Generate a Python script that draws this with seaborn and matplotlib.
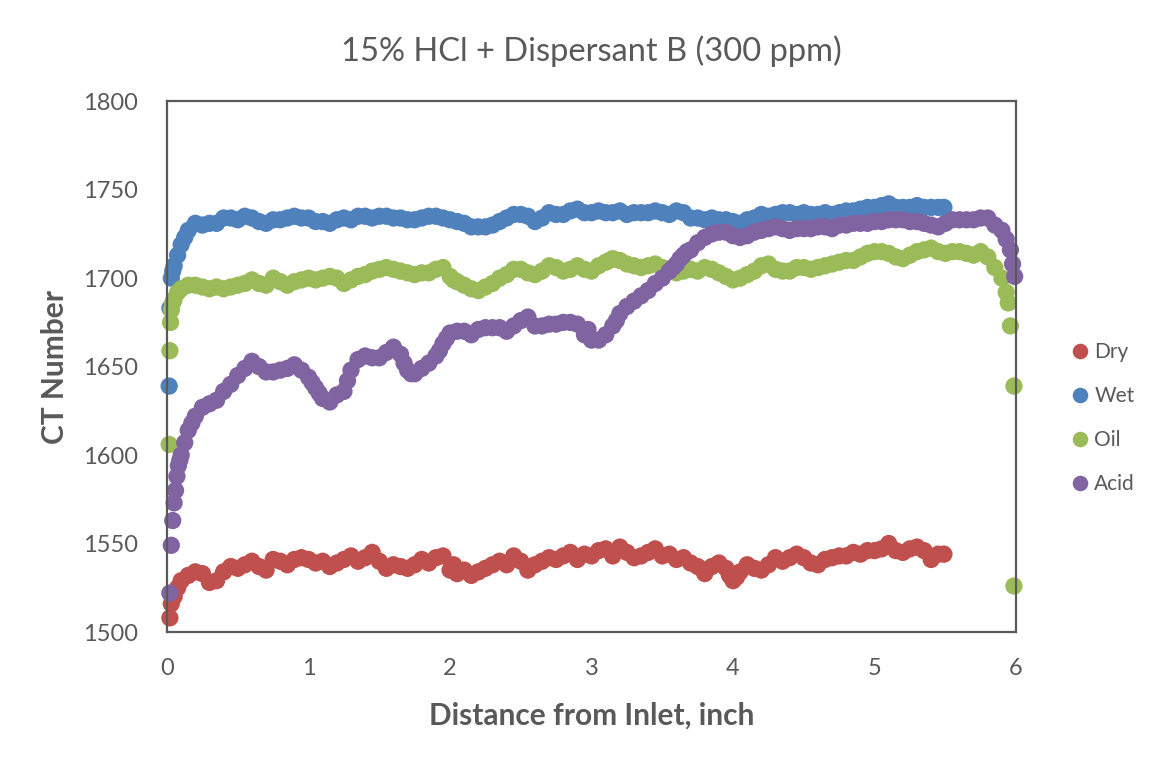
import numpy as np
import pandas as pd
import matplotlib
matplotlib.use("Agg")
import matplotlib.pyplot as plt
import seaborn as sns


def steps(start, stop):
    # sampling positions along the core, 0.05 inch apart
    return list(np.round(np.arange(start, stop + 0.001, 0.05), 3))


# distance from inlet [inch] and CT number
dry_x = [0.02, 0.03] + steps(0.05, 5.45) + [5.49, 0.075, 2.025, 3.975, 4.025]
dry_y = [1508, 1516,
         1520, 1529, 1532, 1534, 1533, 1528, 1529, 1534, 1537, 1536,
         1538, 1540, 1537, 1535, 1541, 1540, 1538, 1541, 1542, 1541,
         1539, 1540, 1537, 1539, 1541, 1543, 1540, 1542, 1545, 1540,
         1536, 1538, 1537, 1536, 1538, 1541, 1539, 1542, 1543, 1535,
         1533, 1535, 1532, 1534, 1536, 1538, 1540, 1538, 1543, 1540,
         1535, 1538, 1540, 1542, 1541, 1543, 1545, 1541, 1544, 1543,
         1546, 1547, 1543, 1548, 1545, 1542, 1543, 1545, 1547, 1543,
         1544, 1541, 1542, 1539, 1537, 1533, 1537, 1539, 1536, 1529,
         1534, 1538, 1536, 1535, 1538, 1542, 1540, 1542, 1544, 1542,
         1539, 1538, 1541, 1542, 1543, 1543, 1545, 1544, 1546, 1546,
         1547, 1550, 1546, 1545, 1547, 1548, 1546, 1541, 1544,
         1544, 1525, 1538, 1532, 1531]

wet_x = [0.015, 0.02, 0.03, 0.04] + steps(0.05, 5.45) + [5.49, 0.075, 0.125]
wet_y = [1639, 1683, 1700, 1704,
         1707, 1719, 1727, 1731, 1730, 1731, 1731, 1734, 1734, 1733,
         1735, 1734, 1732, 1731, 1733, 1733, 1734, 1735, 1734, 1734,
         1732, 1732, 1731, 1733, 1734, 1733, 1735, 1735, 1734, 1735,
         1735, 1734, 1734, 1733, 1733, 1734, 1735, 1735, 1734, 1733,
         1732, 1731, 1729, 1729, 1729, 1730, 1732, 1734, 1736, 1736,
         1735, 1732, 1734, 1737, 1736, 1736, 1738, 1739, 1737, 1737,
         1738, 1737, 1737, 1738, 1736, 1737, 1737, 1737, 1738, 1737,
         1736, 1738, 1737, 1734, 1734, 1733, 1734, 1733, 1733, 1732,
         1731, 1733, 1734, 1736, 1735, 1736, 1737, 1737, 1736, 1737,
         1736, 1736, 1737, 1736, 1737, 1738, 1738, 1739, 1740, 1740,
         1741, 1742, 1740, 1740, 1740, 1741, 1740, 1740, 1740,
         1740, 1713, 1723]

oil_x = ([0.015, 0.02, 0.025, 0.03, 0.04] + steps(0.05, 5.80)
         + [5.85, 5.90, 5.93, 5.945, 5.96, 5.985, 5.985, 0.075, 2.025, 3.125])
oil_y = [1606, 1659, 1675, 1682, 1686,
         1688, 1694, 1696, 1696, 1695, 1694, 1695, 1694, 1695, 1696,
         1697, 1699, 1697, 1696, 1700, 1698, 1696, 1698, 1699, 1700,
         1699, 1700, 1701, 1700, 1697, 1699, 1701, 1702, 1704, 1705,
         1706, 1705, 1704, 1703, 1702, 1703, 1703, 1705, 1706, 1701,
         1698, 1696, 1694, 1693, 1695, 1697, 1700, 1702, 1705, 1705,
         1703, 1702, 1704, 1707, 1706, 1704, 1705, 1707, 1705, 1704,
         1707, 1709, 1711, 1710, 1708, 1707, 1706, 1707, 1708, 1706,
         1704, 1703, 1704, 1705, 1704, 1706, 1705, 1703, 1701, 1699,
         1700, 1702, 1704, 1707, 1708, 1705, 1704, 1704, 1706, 1706,
         1705, 1706, 1707, 1708, 1709, 1710, 1710, 1712, 1714, 1715,
         1715, 1714, 1712, 1711, 1713, 1715, 1716, 1717, 1715, 1714,
         1715, 1715, 1714, 1713, 1715, 1712,
         1706, 1700, 1692, 1686, 1673, 1639, 1526, 1692, 1699, 1710]

acid_x = ([0.02, 0.03, 0.04, 0.05, 0.06, 0.07, 0.08] + steps(0.10, 5.85)
          + [5.90, 5.93, 5.96, 5.975, 5.99]
          + [0.09, 0.125, 0.175, 1.025, 1.075, 1.275, 1.675, 1.725,
             1.925, 1.975, 2.975, 3.175, 3.575, 3.625, 3.675])
acid_y = [1522, 1549, 1563, 1573, 1580, 1588, 1594,
          1600, 1614, 1622, 1627, 1629, 1631, 1636, 1640, 1645,
          1649, 1653, 1650, 1647, 1647, 1648, 1649, 1651, 1648, 1644,
          1638, 1632, 1630, 1634, 1636, 1648, 1654, 1656, 1655, 1655,
          1658, 1661, 1657, 1648, 1646, 1649, 1652, 1656, 1663, 1669,
          1670, 1670, 1668, 1671, 1672, 1672, 1672, 1670, 1673, 1676,
          1678, 1673, 1673, 1674, 1674, 1675, 1675, 1674, 1668, 1665,
          1665, 1668, 1673, 1680, 1684, 1687, 1690, 1693, 1697, 1700,
          1704, 1708, 1713, 1716, 1720, 1723, 1725, 1726, 1726, 1724,
          1723, 1724, 1726, 1727, 1728, 1729, 1728, 1727, 1728, 1728,
          1728, 1729, 1729, 1728, 1730, 1730, 1731, 1731, 1731, 1732,
          1732, 1733, 1733, 1733, 1732, 1732, 1731, 1730, 1729, 1731,
          1733, 1733, 1733, 1733, 1734, 1734, 1730,
          1727, 1722, 1716, 1708, 1701,
          1597, 1607, 1618, 1641, 1635, 1642, 1652, 1646,
          1659, 1666, 1671, 1676, 1706, 1711, 1715]

series = ["Dry", "Wet", "Oil", "Acid"]
colors = ["#C0504D", "#4F81BD", "#9BBB59", "#8064A2"]

frames = []
for name, xs, ys in zip(series, [dry_x, wet_x, oil_x, acid_x],
                        [dry_y, wet_y, oil_y, acid_y]):
    frames.append(pd.DataFrame({"dist": xs, "ct": ys, "sample": name}))
df = pd.concat(frames, ignore_index=True)

sns.set_style("white")
plt.rcParams["font.family"] = ["Lato", "DejaVu Sans"]
TXT = "#595959"

fig = plt.figure(figsize=(11.52, 7.67), dpi=100)
ax = fig.add_axes([0.145, 0.176, 0.737, 0.692])

sns.scatterplot(data=df, x="dist", y="ct", hue="sample", hue_order=series,
                palette=colors, s=155, linewidth=0, alpha=1, ax=ax,
                clip_on=False)

ax.set_xlim(0, 6)
ax.set_ylim(1500, 1800)
ax.set_xticks(range(0, 7))
ax.set_yticks(range(1500, 1801, 50))
ax.tick_params(length=0, labelsize=17, labelcolor=TXT)
ax.tick_params(axis="y", pad=21)
ax.tick_params(axis="x", pad=19)
for sp in ax.spines.values():
    sp.set_color(TXT)
    sp.set_linewidth(1.6)

ax.set_xlabel("Distance from Inlet, inch", fontsize=21.5, fontweight="bold",
              color=TXT, labelpad=16)
ax.set_ylabel("CT Number", fontsize=21.5, fontweight="bold", color=TXT,
              labelpad=10)
ax.set_title("15% HCl + Dispersant B (300 ppm)", fontsize=23.5, color=TXT,
             pad=29)

handles, labels = ax.get_legend_handles_labels()
ax.get_legend().remove()
fig.legend(handles, labels, loc="center left",
           bbox_to_anchor=(0.912, 0.455), frameon=False, fontsize=15,
           labelcolor=TXT, labelspacing=1.15, handlelength=1.0,
           handletextpad=0.2, markerscale=0.9)

plt.savefig("out.png", dpi=100)
print("end")
